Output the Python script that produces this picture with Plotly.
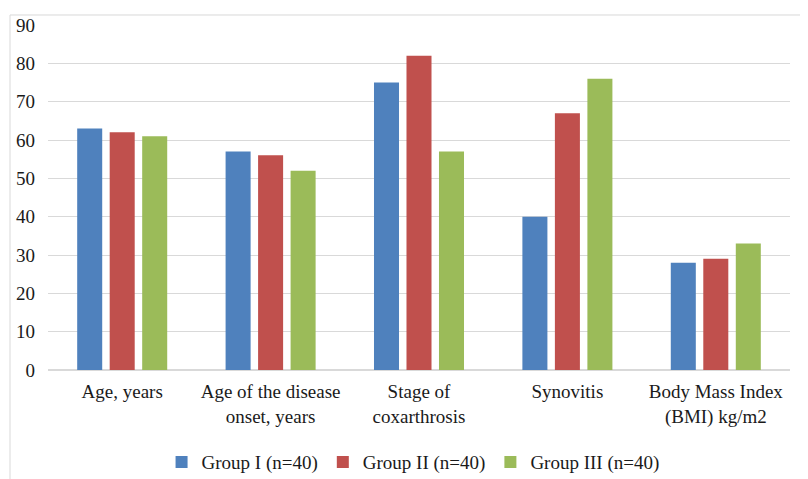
import plotly.graph_objects as go

categories = ["Age, years", "Age of the disease<br>onset, years", "Stage of<br>coxarthrosis",
              "Synovitis", "Body Mass Index<br>(BMI) kg/m2"]
group1 = [63, 57, 75, 40, 28]
group2 = [62, 56, 82, 67, 29]
group3 = [61, 52, 57, 76, 33]
series_names = ["Group I (n=40)", "Group II (n=40)", "Group III (n=40)"]
colors = ["#4f81bd", "#c0504d", "#9bbb59"]
y_ticks = [0, 10, 20, 30, 40, 50, 60, 70, 80, 90]

fig = go.Figure()
for name, vals, col in zip(series_names, [group1, group2, group3], colors):
    fig.add_trace(go.Bar(x=categories, y=vals, name=name, marker_color=col,
                         marker_line_width=0))

font = dict(family="'Liberation Serif', 'Times New Roman', Times, serif", size=19, color="#1a1a1a")
fig.update_layout(
    width=808, height=479,
    margin=dict(l=40, r=26, t=17, b=117, autoexpand=False),
    paper_bgcolor="white", plot_bgcolor="white",
    barmode="group", bargap=0.343, bargroupgap=0.23,
    font=font,
    showlegend=True,
    legend=dict(orientation="h", x=0.492, xanchor="center", y=-0.267, yanchor="middle",
                font=font, traceorder="normal"),
    xaxis=dict(showgrid=False, showline=False, ticks="", tickfont=font, automargin=False,
               ticklabelstandoff=8),
    yaxis=dict(range=[0, 90], tickvals=y_ticks, showgrid=True, gridcolor="#d9d9d9",
               gridwidth=1, zeroline=True, zerolinecolor="#d9d9d9", showline=False,
               ticks="", tickfont=font, ticklabelstandoff=12, automargin=False),
    shapes=[
        dict(type="line", xref="paper", yref="paper", x0=-0.0512, x1=1.1, y0=1.029, y1=1.029,
             line=dict(color="#d9d9d9", width=1)),
        dict(type="line", xref="paper", yref="paper", x0=-0.0512, x1=-0.0512, y0=1.029, y1=-0.4,
             line=dict(color="#d9d9d9", width=1)),
    ],
)
fig.write_html("out.html")
